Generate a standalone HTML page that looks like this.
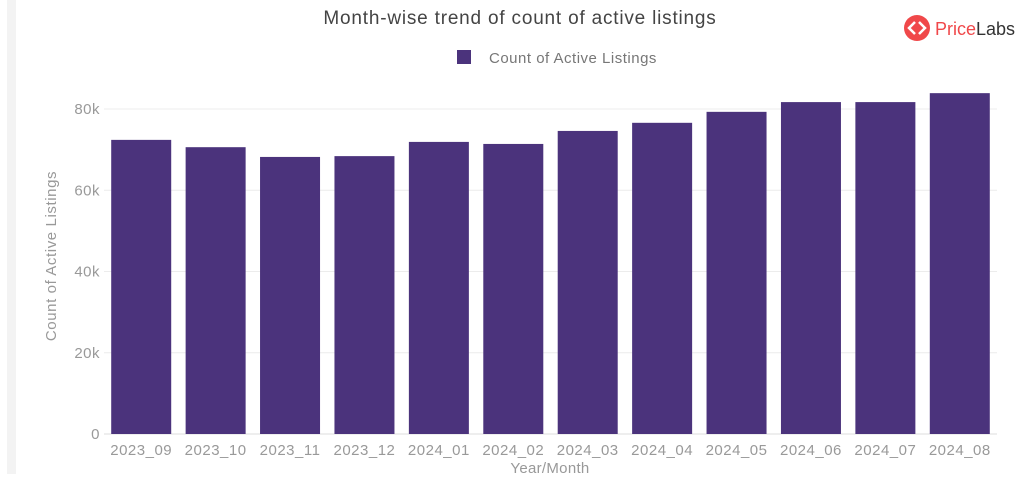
<!DOCTYPE html>
<html><head><meta charset="utf-8"><style>
body{margin:0;background:#fff;width:1024px;height:481px;overflow:hidden;font-family:"Liberation Sans",sans-serif}
</style></head><body>
<svg width="1024" height="481" xmlns="http://www.w3.org/2000/svg">
<rect x="7" y="0" width="9" height="474" fill="#f3f3f3"/>
<text x="520" y="24" text-anchor="middle" font-size="19" letter-spacing="0.8" fill="#444">Month-wise trend of count of active listings</text>
<g>
<rect x="457" y="50" width="14" height="14" fill="#4b337c"/>
<text x="489" y="63" font-size="15" letter-spacing="0.5" fill="#777">Count of Active Listings</text>
</g>
<g>
<circle cx="917" cy="28" r="13" fill="#f0484a"/>
<path d="M915 22 l-6 6 l6 6 M919 22 l6 6 l-6 6" stroke="#fff" stroke-width="2.5" fill="none"/>
<text x="935" y="35" font-size="18" fill="#f0484a">Price<tspan fill="#333">Labs</tspan></text>
</g>
<g id="grid"></g><g id="bars"></g><g id="xt"></g>
<text x="550" y="473" text-anchor="middle" font-size="15" letter-spacing="0.3" fill="#999">Year/Month</text>
<text transform="translate(56,256) rotate(-90)" text-anchor="middle" font-size="15" letter-spacing="0.6" fill="#999">Count of Active Listings</text>
</svg>
<script>
const categories=["2023_09","2023_10","2023_11","2023_12","2024_01","2024_02","2024_03","2024_04","2024_05","2024_06","2024_07","2024_08"];
const values=[72400,70600,68200,68400,71900,71400,74600,76600,79300,81700,81700,83900];
const yTicks=[0,20000,40000,60000,80000];
const yTickLabels=["0","20k","40k","60k","80k"];
const NS="http://www.w3.org/2000/svg";
const L=104,R=997,Y0=434,PX=325/80000;
const y=v=>Y0-v*PX;
const band=(R-L)/categories.length;
const x=i=>L+i*band;
function mk(t,a,p){const e=document.createElementNS(NS,t);for(const k in a)e.setAttribute(k,a[k]);p.appendChild(e);return e;}
const g=document.getElementById('grid'),b=document.getElementById('bars'),xt=document.getElementById('xt');
yTicks.forEach((v,i)=>{
const ln=mk('line',{x1:L,x2:R,y1:y(v),y2:y(v),stroke:i==0?'#ddd':'#ececec','stroke-width':1},g);


const t=mk('text',{x:L-4,y:y(v)+5,'text-anchor':'end','font-size':15,'letter-spacing':0.5,fill:'#999'},g);
t.textContent=yTickLabels[i];


});
categories.forEach((c,i)=>{
const bw=60,cx=x(i)+band/2;
const r=mk('rect',{x:cx-bw/2,y:y(values[i]),width:bw,height:Y0-y(values[i]),fill:'#4b337c'},b);


const t=mk('text',{x:cx,y:455,'text-anchor':'middle','font-size':15,'letter-spacing':0.5,fill:'#999'},xt);
t.textContent=c;


});
</script>
</body></html>
